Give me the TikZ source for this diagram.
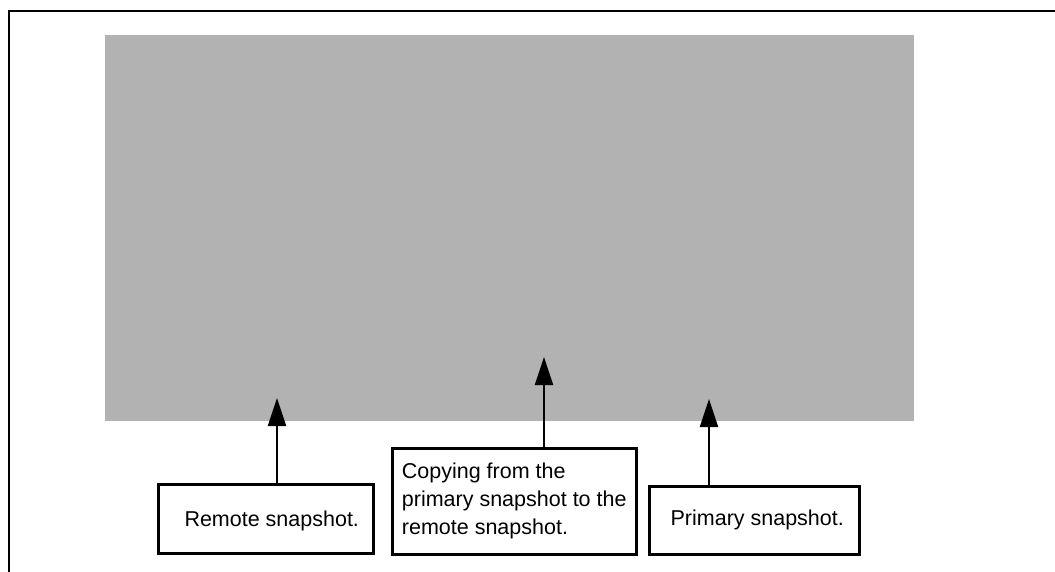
\documentclass[tikz,border=0pt]{standalone}
\usepackage{fontspec}
\setmainfont{Liberation Sans}
\usetikzlibrary{arrows.meta}

\begin{document}
\begin{tikzpicture}[x=1pt,y=-1pt,line width=2.5pt,
    popis/.style={draw,rectangle,anchor=north west,inner sep=0pt,
        font=\fontsize{21.5}{28}\selectfont},
    sipka/.style={line width=2pt,-{Triangle[length=28pt,width=18pt]}}]
        \useasboundingbox (0,0) rectangle (1055,572);

        % ramecek
        \draw (9,572) -- (9,11) -- (1055,11);

        % sedy obdelnik
        \fill[gray!60] (105,35) rectangle (914,421);

        % popisky
        \node[popis,minimum width=215pt,minimum height=69pt,text depth=0pt] (remote) at (157,483) {\hspace{12pt}Remote snapshot.};
        \node[popis,minimum width=244pt,minimum height=106pt,align=left] (copy) at (391,447)
            {Copying from the\\primary snapshot to the\\remote snapshot.};
        \node[popis,minimum width=210pt,minimum height=68pt] (primary) at (648,485) {\hspace{6pt}Primary snapshot.};

        % hroty sipek
        \coordinate (t1) at (277,398);
        \coordinate (t2) at (544,357);
        \coordinate (t3) at (709,399);

        % sipky
        \draw[sipka] (t1 |- remote.north) -- (t1);
        \draw[sipka] (t2 |- copy.north) -- (t2);
        \draw[sipka] (t3 |- primary.north) -- (t3);
    \end{tikzpicture}
\end{document}
